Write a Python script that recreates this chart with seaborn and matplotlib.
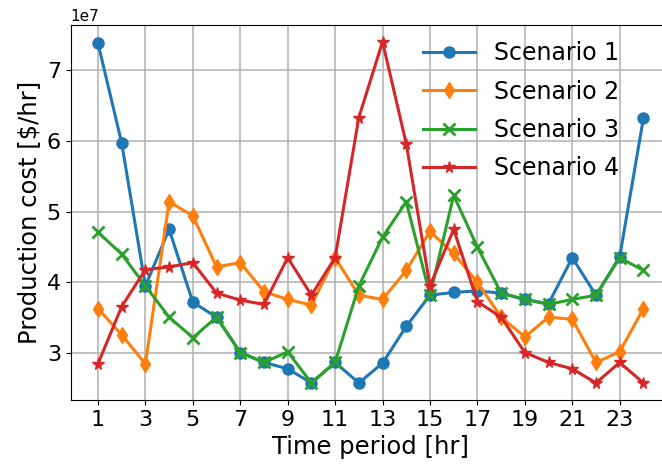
import matplotlib
matplotlib.use("Agg")
import matplotlib.pyplot as plt
import seaborn as sns
import numpy as np

hours = list(range(1, 25))
xtick_labels = [str(h) for h in range(1, 24, 2)]

scenario_names = ["Scenario 1", "Scenario 2", "Scenario 3", "Scenario 4"]

# Production cost per hour, in units of 1e7 $/hr
scenario_1 = [7.38, 5.97, 3.95, 4.75, 3.72, 3.51, 3.01, 2.87, 2.78, 2.58, 2.87, 2.58,
              2.86, 3.38, 3.82, 3.86, 3.88, 3.85, 3.76, 3.70, 4.35, 3.82, 4.36, 6.32]
scenario_2 = [3.63, 3.26, 2.85, 5.14, 4.94, 4.22, 4.28, 3.87, 3.76, 3.68, 4.35, 3.82,
              3.76, 4.17, 4.72, 4.41, 4.00, 3.51, 3.23, 3.51, 3.48, 2.87, 3.02, 3.63]
scenario_3 = [4.71, 4.40, 3.95, 3.51, 3.22, 3.51, 3.01, 2.87, 3.02, 2.58, 2.87, 3.95,
              4.64, 5.14, 3.82, 5.23, 4.50, 3.85, 3.76, 3.69, 3.76, 3.82, 4.35, 4.17]
scenario_4 = [2.85, 3.66, 4.18, 4.22, 4.28, 3.85, 3.75, 3.69, 4.35, 3.82, 4.35, 6.33,
              7.40, 5.96, 3.95, 4.75, 3.73, 3.51, 3.01, 2.87, 2.78, 2.58, 2.87, 2.58]

series = [scenario_1, scenario_2, scenario_3, scenario_4]
markers = ["o", "d", "x", "*"]
colors = sns.color_palette("tab10", 4)

fig = plt.figure(figsize=(6.62, 4.71), dpi=100)
ax = fig.add_axes([0.1068, 0.1507, 0.9063, 0.7968])

for name, vals, mk, col in zip(scenario_names, series, markers, colors):
    sns.lineplot(x=hours, y=np.array(vals) * 1e7, ax=ax, label=name, color=col,
                 marker=mk, markersize=8.5 if mk == "*" else 8, markeredgecolor=col,
                 markeredgewidth=2 if mk == "x" else 1, linewidth=2.2)

ax.set_xticks(range(1, 24, 2))
ax.set_xticklabels(xtick_labels)
ax.grid(True, color="#b0b0b0", linewidth=1.1)
ax.set_axisbelow(True)
ax.tick_params(labelsize=16)
ax.yaxis.get_offset_text().set_fontsize(11)
ax.set_xlabel("Time period [hr]", fontsize=17.5)
ax.set_ylabel("Production cost [$/hr]", fontsize=17.5)

ax.legend(loc="upper left", bbox_to_anchor=(0.552, 1.012), frameon=False,
          fontsize=17, handlelength=2.2, handletextpad=0.82, labelspacing=0.6)

fig.savefig("out.png", dpi=100)
